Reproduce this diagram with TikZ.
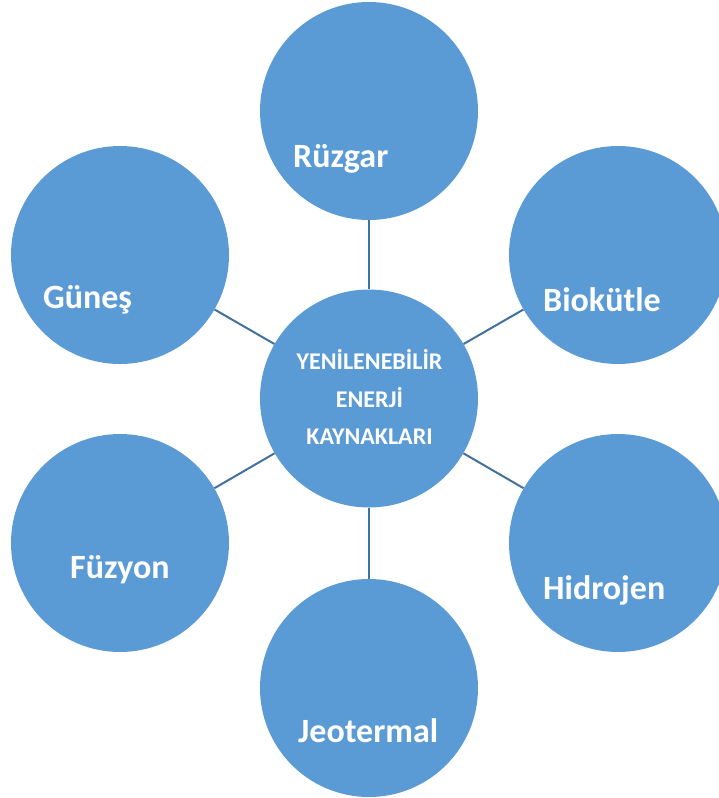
\documentclass[tikz,border=0pt]{standalone}
\usepackage{fontspec}
\setmainfont{Carlito}
\definecolor{fillblue}{HTML}{5B9BD5}
\definecolor{lineblue}{HTML}{41719C}
\begin{document}
\begin{tikzpicture}[x=1pt,y=-1pt,
  bubble/.style={circle,fill=fillblue,draw=none,minimum size=218pt,inner sep=0pt},
  conn/.style={draw=lineblue,line width=2pt},
  lbl/.style={anchor=base west,inner sep=0pt,text=white,font=\fontsize{34}{40}\selectfont\bfseries},
  clbl/.style={anchor=base,inner sep=0pt,text=white,font=\fontsize{24}{28}\selectfont\bfseries}]
\useasboundingbox (0,0) rectangle (719,798);
\node[bubble] (c) at (369,398.5) {};
\node[bubble] (rz) at (369,111) {};
\node[bubble] (gn) at (120,255) {};
\node[bubble] (bk) at (618,255) {};
\node[bubble] (fz) at (120,543) {};
\node[bubble] (hd) at (618,543) {};
\node[bubble] (jt) at (369,688) {};
\draw[conn] (c) -- (rz);
\draw[conn] (c) -- (gn);
\draw[conn] (c) -- (bk);
\draw[conn] (c) -- (fz);
\draw[conn] (c) -- (hd);
\draw[conn] (c) -- (jt);
\node[lbl] (trz) at (293,167) {Rüzgar};
\node[lbl] (tgn) at (43,308) {Güneş};
\node[lbl] (tbk) at (543,311) {Biokütle};
\node[lbl] (tfz) at (70,578) {Füzyon};
\node[lbl] (thd) at (543,599) {Hidrojen};
\node[lbl] (tjt) at (298,742) {Jeotermal};
\node[clbl] (tc1) at (369.5,369) {YENİLENEBİLİR};
\node[clbl] (tc2) at (369.5,407) {ENERJİ};
\node[clbl] (tc3) at (369.5,444) {KAYNAKLARI};
\end{tikzpicture}
\end{document}
